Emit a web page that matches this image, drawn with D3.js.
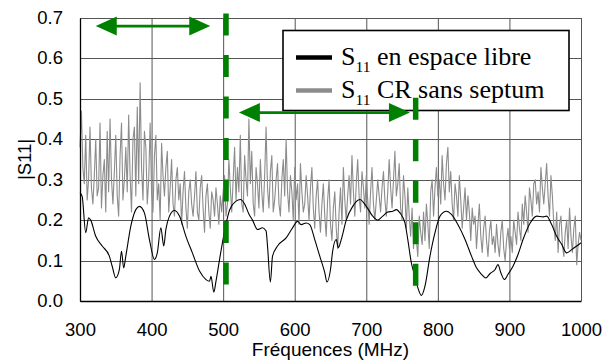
<!DOCTYPE html>
<html>
<head>
<meta charset="utf-8">
<script src="https://cdn.jsdelivr.net/npm/d3@7"></script>
<style>
  html, body { margin: 0; padding: 0; background: #fff; }
  svg { display: block; }
</style>
</head>
<body>
<svg id="chart" width="606" height="363"></svg>
<script>
// ---- Axis ticks ----
const freqTicks = [300, 400, 500, 600, 700, 800, 900, 1000];
const s11Ticks = [0, 0.1, 0.2, 0.3, 0.4, 0.5, 0.6, 0.7];

// ---- S11 in free space (smooth trace) ----
const freeFreq = [300, 303, 308, 312, 315, 322, 331, 341, 345, 350, 355, 358, 361, 364, 371, 378, 383, 390, 397, 404,
  408, 413, 417, 420, 425, 432, 439, 448, 457, 467, 476, 481, 483, 487, 490, 495, 499, 509, 518, 524,
  530, 536, 541, 548, 555, 560, 562, 566, 569, 576, 588, 597, 604, 609, 616, 621, 628, 635, 642, 645,
  650, 653, 658, 661, 665, 672, 681, 691, 700, 709, 716, 723, 730, 737, 742, 747, 754, 758, 763, 768,
  772, 777, 782, 789, 796, 803, 812, 819, 828, 838, 847, 854, 861, 867, 873, 880, 884, 888, 893, 898,
  905, 912, 919, 929, 938, 947, 952, 959, 966, 973, 980, 987, 994, 1000];
const freeS11 = [0.268, 0.259, 0.169, 0.206, 0.200, 0.160, 0.136, 0.111, 0.086, 0.057, 0.078, 0.123, 0.082, 0.111, 0.185, 0.226, 0.234, 0.218, 0.152, 0.103,
  0.119, 0.181, 0.136, 0.177, 0.210, 0.224, 0.210, 0.160, 0.119, 0.074, 0.053, 0.049, 0.061, 0.022, 0.049, 0.103, 0.144, 0.225, 0.247, 0.251,
  0.240, 0.215, 0.200, 0.177, 0.181, 0.173, 0.136, 0.047, 0.111, 0.136, 0.156, 0.181, 0.197, 0.189, 0.193, 0.189, 0.152, 0.111, 0.070, 0.047,
  0.078, 0.123, 0.152, 0.132, 0.152, 0.200, 0.234, 0.251, 0.234, 0.210, 0.200, 0.210, 0.220, 0.222, 0.226, 0.218, 0.193, 0.152, 0.094, 0.061,
  0.033, 0.014, 0.037, 0.111, 0.169, 0.210, 0.222, 0.214, 0.189, 0.152, 0.111, 0.082, 0.066, 0.057, 0.068, 0.078, 0.090, 0.070, 0.053, 0.066,
  0.086, 0.115, 0.152, 0.193, 0.210, 0.208, 0.210, 0.189, 0.160, 0.140, 0.119, 0.127, 0.136, 0.144];

// ---- S11 in the reverberation chamber without septum (2 MHz sweep from 300 MHz) ----
const chamberStart = 300;
const chamberStep = 2;
const chamberS11 = [
  0.38, 0.47, 0.33, 0.29, 0.41, 0.25, 0.30, 0.43, 0.28, 0.24,
  0.31, 0.40, 0.26, 0.28, 0.44, 0.23, 0.31, 0.35, 0.22, 0.42,
  0.27, 0.45, 0.30, 0.24, 0.32, 0.41, 0.26, 0.21, 0.36, 0.44,
  0.25, 0.30, 0.38, 0.27, 0.46, 0.31, 0.22, 0.40, 0.43, 0.26,
  0.48, 0.29, 0.54, 0.33, 0.25, 0.42, 0.38, 0.24, 0.30, 0.44,
  0.27, 0.22, 0.36, 0.41, 0.25, 0.29, 0.20, 0.39, 0.31, 0.26,
  0.33, 0.37, 0.22, 0.28, 0.35, 0.24, 0.21, 0.30, 0.33, 0.25,
  0.29, 0.19, 0.27, 0.32, 0.23, 0.18, 0.27, 0.30, 0.24, 0.21,
  0.26, 0.32, 0.22, 0.20, 0.28, 0.31, 0.23, 0.17, 0.26, 0.29,
  0.22, 0.18, 0.27, 0.25, 0.21, 0.28, 0.24, 0.19, 0.26, 0.22,
  0.27, 0.31, 0.21, 0.24, 0.35, 0.28, 0.22, 0.30, 0.38, 0.25,
  0.33, 0.27, 0.41, 0.24, 0.22, 0.36, 0.30, 0.26, 0.45, 0.29,
  0.37, 0.24, 0.21, 0.33, 0.29, 0.23, 0.35, 0.27, 0.22, 0.31,
  0.43, 0.28, 0.23, 0.32, 0.36, 0.22, 0.25, 0.30, 0.34, 0.24,
  0.21, 0.30, 0.35, 0.26, 0.40, 0.27, 0.22, 0.31, 0.27, 0.20,
  0.33, 0.25, 0.29, 0.19, 0.34, 0.27, 0.22, 0.24, 0.31, 0.26,
  0.20, 0.28, 0.33, 0.23, 0.18, 0.26, 0.30, 0.22, 0.17, 0.24,
  0.29, 0.21, 0.16, 0.25, 0.30, 0.19, 0.15, 0.23, 0.27, 0.18,
  0.13, 0.22, 0.28, 0.19, 0.33, 0.25, 0.20, 0.26, 0.31, 0.24,
  0.36, 0.27, 0.21, 0.29, 0.35, 0.26, 0.22, 0.32, 0.28, 0.23,
  0.31, 0.25, 0.19, 0.27, 0.33, 0.24, 0.20, 0.25, 0.30, 0.26,
  0.22, 0.28, 0.32, 0.25, 0.21, 0.27, 0.35, 0.28, 0.23, 0.30,
  0.37, 0.26, 0.29, 0.34, 0.23, 0.20, 0.31, 0.26, 0.18, 0.28,
  0.21, 0.16, 0.23, 0.13, 0.19, 0.15, 0.11, 0.21, 0.17, 0.14,
  0.22, 0.15, 0.24, 0.19, 0.13, 0.27, 0.30, 0.21, 0.28, 0.33,
  0.26, 0.30, 0.24, 0.36, 0.29, 0.25, 0.34, 0.38, 0.27, 0.32,
  0.24, 0.20, 0.29, 0.26, 0.21, 0.31, 0.25, 0.18, 0.23, 0.28,
  0.20, 0.26, 0.22, 0.15, 0.23, 0.19, 0.21, 0.13, 0.19, 0.24,
  0.16, 0.12, 0.18, 0.21, 0.15, 0.11, 0.17, 0.20, 0.14, 0.16,
  0.12, 0.19, 0.14, 0.11, 0.17, 0.20, 0.13, 0.10, 0.15, 0.18,
  0.13, 0.16, 0.12, 0.20, 0.17, 0.14, 0.22, 0.18, 0.15, 0.24,
  0.19, 0.26, 0.22, 0.17, 0.28, 0.25, 0.21, 0.29, 0.30, 0.24,
  0.27, 0.22, 0.33, 0.28, 0.24, 0.29, 0.34, 0.26, 0.21, 0.31,
  0.26, 0.19, 0.15, 0.22, 0.12, 0.19, 0.21, 0.14, 0.11, 0.17,
  0.20, 0.13, 0.23, 0.16, 0.12, 0.18, 0.21, 0.09, 0.14, 0.17,
  0.15
];

// ---- Band annotations: dashed band limits (MHz, |S11| span) and double arrows ----
const bandLimitFreq = [504, 769];
const bandLimitTop = [0.711, 0.503];
const bandLimitBottom = [0.038, 0.038];
const arrowFrom = [322, 522];
const arrowTo = [482, 761];
const arrowLevel = [0.680, 0.466];

const legendLabels = [
  { main: "S", sub: "11", rest: " en espace libre" },
  { main: "S", sub: "11", rest: " CR sans septum" }
];

// ---- Layout ----
const svg = d3.select("#chart");
const W = 606, H = 363;
const x = d3.scaleLinear().domain([300, 1000]).range([80, 581]);
const y = d3.scaleLinear().domain([0, 0.7]).range([301, 18]);
const yGrid = y.copy().interpolate(d3.interpolateRound);

const sans = "'Liberation Sans', Arial, sans-serif";
const serif = "'Liberation Serif', 'Times New Roman', serif";
const gridColor = "#555";
const green = "#008000";
const greyTrace = "#8c8c8c";

svg.append("rect").attr("width", W).attr("height", H).attr("fill", "#fff");

// Gridlines
const gy = svg.append("g").attr("transform", `translate(${x.range()[0]},0)`)
  .call(d3.axisLeft(yGrid).tickValues(s11Ticks).tickSize(-(x.range()[1] - x.range()[0])).tickFormat(""));
gy.select(".domain").remove();
gy.selectAll(".tick line").attr("stroke", gridColor).attr("stroke-width", 1);

const gx = svg.append("g").attr("transform", `translate(0,${y.range()[1]})`)
  .call(d3.axisBottom(x).tickValues(freqTicks).tickSize(y.range()[0] - y.range()[1]).tickFormat(""));
gx.select(".domain").remove();
gx.selectAll(".tick line").attr("stroke", gridColor).attr("stroke-width", 1);

// Traces
const chamberData = chamberS11.map((v, i) => ({ f: chamberStart + i * chamberStep, v }));
const freeData = freeFreq.map((f, i) => ({ f, v: freeS11[i] }));

svg.append("path")
  .datum(chamberData)
  .attr("fill", "none")
  .attr("stroke", greyTrace)
  .attr("stroke-width", 1.1)
  .attr("stroke-linejoin", "round")
  .attr("d", d3.line().x(d => x(d.f)).y(d => y(d.v)));

svg.append("path")
  .datum(freeData)
  .attr("fill", "none")
  .attr("stroke", "#000")
  .attr("stroke-width", 1.1)
  .attr("d", d3.line().curve(d3.curveMonotoneX).x(d => x(d.f)).y(d => y(d.v)));

// Left and bottom frame edges with tick labels
const axisY = svg.append("g").attr("transform", `translate(${x.range()[0]},0)`)
  .call(d3.axisLeft(yGrid).tickValues(s11Ticks).tickSize(0).tickPadding(17).tickFormat(d3.format(".1f")));
axisY.select(".domain").attr("stroke", "#000").attr("stroke-width", 1.3);
axisY.selectAll(".tick text").attr("font-family", sans).attr("font-size", 18.5).attr("fill", "#000");

const axisX = svg.append("g").attr("transform", `translate(0,${y.range()[0]})`)
  .call(d3.axisBottom(x).tickValues(freqTicks).tickSize(0).tickPadding(22).tickFormat(d3.format("d")));
axisX.select(".domain").attr("stroke", "#000").attr("stroke-width", 1.3);
axisX.selectAll(".tick text").attr("font-family", sans).attr("font-size", 18.5).attr("fill", "#000");

// Axis titles
svg.append("text")
  .attr("x", (x.range()[0] + x.range()[1]) / 2)
  .attr("y", 355.5)
  .attr("text-anchor", "middle")
  .attr("font-family", sans).attr("font-size", 19)
  .text("Fréquences (MHz)");

svg.append("text")
  .attr("transform", `translate(31,${(y.range()[0] + y.range()[1]) / 2}) rotate(-90)`)
  .attr("text-anchor", "middle")
  .attr("font-family", sans).attr("font-size", 18.5)
  .text("|S11|");

// Legend
const legend = svg.append("g");
legend.append("rect")
  .attr("x", 283).attr("y", 30.5).attr("width", 286).attr("height", 80)
  .attr("fill", "#fff").attr("stroke", "#000").attr("stroke-width", 1.6);
const legendColors = ["#000", greyTrace];
const rowY = [57.5, 90.5];
legendLabels.forEach((lab, i) => {
  legend.append("line")
    .attr("x1", 296).attr("x2", 332).attr("y1", rowY[i]).attr("y2", rowY[i])
    .attr("stroke", legendColors[i]).attr("stroke-width", 4.5);
  const t = legend.append("text")
    .attr("x", 341).attr("y", rowY[i] + 7.5)
    .attr("font-family", serif).attr("font-size", 26).attr("fill", "#000");
  t.append("tspan").text(lab.main);
  t.append("tspan").attr("font-size", 15.5).attr("dy", 6.5).text(lab.sub);
  t.append("tspan").attr("dy", -6.5).text(lab.rest);
});

// Band annotations
const annot = svg.append("g");
bandLimitFreq.forEach((f, i) => {
  annot.append("line")
    .attr("x1", x(f)).attr("x2", x(f))
    .attr("y1", y(bandLimitTop[i])).attr("y2", y(bandLimitBottom[i]))
    .attr("stroke", green).attr("stroke-width", 5.5)
    .attr("stroke-dasharray", "22 19.5");
});

const headLen = 21, headHalf = 9.5;
arrowFrom.forEach((f0, i) => {
  const x0 = x(f0), x1 = x(arrowTo[i]), yy = y(arrowLevel[i]);
  annot.append("line")
    .attr("x1", x0 + headLen - 2).attr("x2", x1 - headLen + 2)
    .attr("y1", yy).attr("y2", yy)
    .attr("stroke", green).attr("stroke-width", 2.6);
  annot.append("path")
    .attr("d", `M${x0},${yy} L${x0 + headLen},${yy - headHalf} L${x0 + headLen},${yy + headHalf} Z`)
    .attr("fill", green);
  annot.append("path")
    .attr("d", `M${x1},${yy} L${x1 - headLen},${yy - headHalf} L${x1 - headLen},${yy + headHalf} Z`)
    .attr("fill", green);
});
</script>
</body>
</html>
